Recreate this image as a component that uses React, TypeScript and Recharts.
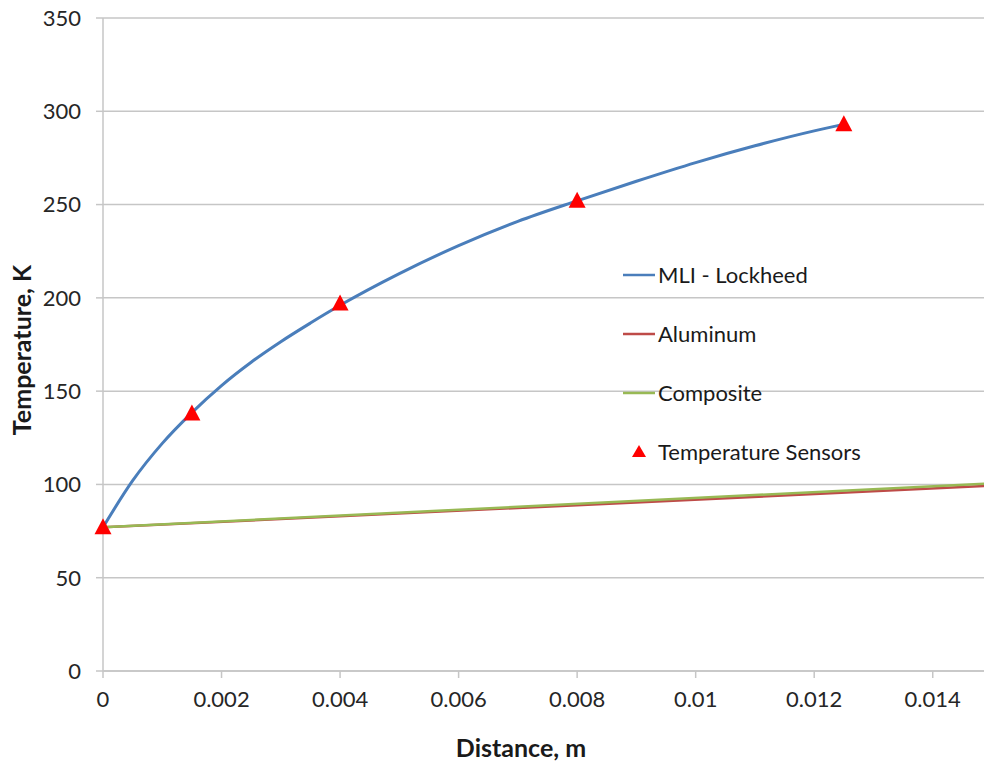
import React from 'react';
import { ComposedChart, Line, Scatter, XAxis, YAxis, CartesianGrid } from 'recharts';

const mliX = [0, 0.0005, 0.001, 0.0015, 0.002, 0.0025, 0.003, 0.0035, 0.004, 0.005, 0.006, 0.007, 0.008, 0.009, 0.01, 0.011, 0.012, 0.0125];
const mliT = [77, 102, 122, 138.5, 153, 165.5, 176.5, 186.5, 196, 213, 228, 241, 252, 262.5, 272.5, 281.5, 289.5, 293];

const aluminumX = [0, 0.015];
const aluminumT = [77, 99.3];

const compositeX = [0, 0.015];
const compositeT = [77, 100.6];

const sensorX = [0, 0.0015, 0.004, 0.008, 0.0125];
const sensorT = [77, 138, 197, 252, 293];

const xTicks = [0, 0.002, 0.004, 0.006, 0.008, 0.01, 0.012, 0.014];
const yTicks = [0, 50, 100, 150, 200, 250, 300, 350];

const legendItems = ['MLI - Lockheed', 'Aluminum', 'Composite', 'Temperature Sensors'];

const BLUE = '#4a7ebb';
const RED = '#be4b48';
const GREEN = '#98b954';
const SENSOR = '#ff0000';
const GRID = '#c6c6c6';
const FONT = 'Lato, "Open Sans", sans-serif';

const zip = (xs: number[], ys: number[]) => xs.map((x, i) => ({ x, y: ys[i] }));
const mliData = zip(mliX, mliT);
const aluminumData = zip(aluminumX, aluminumT);
const compositeData = zip(compositeX, compositeT);
const sensorData = zip(sensorX, sensorT);

const Triangle = (props: any) => {
  const { cx, cy } = props;
  if (cx == null || cy == null) return null;
  return <polygon points={`${cx},${cy - 9} ${cx - 8.5},${cy + 7} ${cx + 8.5},${cy + 7}`} fill={SENSOR} />;
};

const legendColors = [BLUE, RED, GREEN, SENSOR];

const LegendBox = () => (
  <div
    style={{
      position: 'absolute',
      left: 623,
      top: 245,
      fontFamily: FONT,
      fontSize: 22,
      color: '#1a1a1a',
    }}
  >
    {legendItems.map((name, i) => (
      <div key={name} style={{ display: 'flex', alignItems: 'center', height: 59 }}>
        <svg width={35} height={20} style={{ display: 'block' }}>
          {i < 3 ? (
            <line x1={0} y1={10} x2={32} y2={10} stroke={legendColors[i]} strokeWidth={2.5} />
          ) : (
            <polygon points="16,3 9,15 23,15" fill={SENSOR} />
          )}
        </svg>
        <span style={{ lineHeight: '22px', whiteSpace: 'nowrap' }}>{name}</span>
      </div>
    ))}
  </div>
);

export default function App() {
  return (
    <div style={{ position: 'absolute', left: 0, top: 0, width: 984, height: 761, background: '#fff', overflow: 'hidden' }}>
      <ComposedChart width={992} height={761} margin={{ top: 18, right: 0, bottom: 30, left: 43 }}>
        <CartesianGrid vertical={false} stroke={GRID} strokeWidth={1.5} />
        <XAxis
          type="number"
          dataKey="x"
          domain={[0, 0.015]}
          ticks={xTicks}
          tickFormatter={(v: number) => String(v)}
          height={60}
          tickSize={7}
          tickMargin={13}
          stroke={GRID}
          strokeWidth={1.5}
          tick={{ fill: '#262626', fontSize: 22, fontFamily: FONT }}
          label={{
            content: () => (
              <text x={521} y={757} textAnchor="middle" fontFamily={FONT} fontSize={25} fontWeight="bold" fill="#1a1a1a">
                Distance, m
              </text>
            ),
          }}
        />
        <YAxis
          type="number"
          domain={[0, 350]}
          ticks={yTicks}
          width={60}
          tickSize={7}
          tickMargin={15}
          stroke={GRID}
          strokeWidth={1.5}
          tick={{ fill: '#262626', fontSize: 22, fontFamily: FONT }}
          label={{
            content: () => (
              <text
                x={31}
                y={350}
                transform="rotate(-90 31 350)"
                textAnchor="middle"
                fontFamily={FONT}
                fontSize={25}
                fontWeight="bold"
                fill="#1a1a1a"
              >
                Temperature, K
              </text>
            ),
          }}
        />
        <Line data={aluminumData} dataKey="y" type="linear" stroke={RED} strokeWidth={2.5} dot={false} isAnimationActive={false} />
        <Line data={compositeData} dataKey="y" type="linear" stroke={GREEN} strokeWidth={2.5} dot={false} isAnimationActive={false} />
        <Line data={mliData} dataKey="y" type="monotone" stroke={BLUE} strokeWidth={3} dot={false} isAnimationActive={false} />
        <Scatter data={sensorData} dataKey="y" fill={SENSOR} shape={<Triangle />} isAnimationActive={false} />
      </ComposedChart>
      <LegendBox />
    </div>
  );
}
